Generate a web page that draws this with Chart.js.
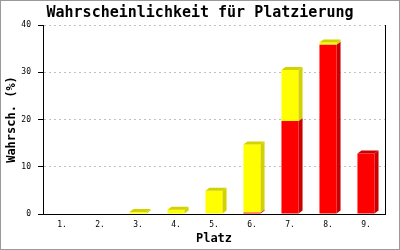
<!DOCTYPE html>
<html><head><meta charset="utf-8">
<script src="https://cdn.jsdelivr.net/npm/chart.js@4"></script>
<style>html,body{margin:0;padding:0;background:#fff}#wrap{width:400px;height:250px}</style>
</head><body><div id="wrap"><canvas id="c" width="400" height="250"></canvas></div>
<script>
const categories = ['1.','2.','3.','4.','5.','6.','7.','8.','9.'];
const redValues = [0,0,0,0,0,0.3,19.7,35.8,12.8];
const yellowValues = [0,0,0.4,0.9,4.9,14.4,10.8,0.5,0];
const yTicks = [0,10,20,30,40];

const DX = 4, DY = 3;
const bar3d = {
  id: 'bar3d',
  afterDatasetsDraw(chart) {
    const ctx = chart.ctx;
    const sets = chart.data.datasets;
    for (let i = 0; i < categories.length; i++) {
      let topDs = -1;
      sets.forEach((ds, d) => { if (ds.data[i] > 0) topDs = d; });
      sets.forEach((ds, d) => {
        if (!(ds.data[i] > 0)) return;
        const el = chart.getDatasetMeta(d).data[i];
        const {x, y, base, width} = el.getProps(['x', 'y', 'base', 'width'], true);
        const l = x - width / 2, r = x + width / 2;
        ctx.save();
        ctx.fillStyle = ds.sideColor;
        ctx.beginPath();
        ctx.moveTo(r, y); ctx.lineTo(r + DX, y - DY); ctx.lineTo(r + DX, base - DY); ctx.lineTo(r, base);
        ctx.closePath(); ctx.fill();
        if (d === topDs) {
          ctx.beginPath();
          ctx.moveTo(l, y); ctx.lineTo(l + DX, y - DY); ctx.lineTo(r + DX, y - DY); ctx.lineTo(r, y);
          ctx.closePath(); ctx.fill();
        }
        ctx.restore();
      });
    }
  }
};
const frame = {
  id: 'frame',
  beforeDraw(chart) {
    const ctx = chart.ctx;
    ctx.save();
    ctx.fillStyle = '#fff';
    ctx.fillRect(0, 0, chart.width, chart.height);
    ctx.restore();
  },
  afterDraw(chart) {
    const ctx = chart.ctx, a = chart.chartArea;
    ctx.save();
    ctx.strokeStyle = '#000'; ctx.lineWidth = 1;
    ctx.beginPath();
    ctx.moveTo(Math.round(a.right) + 0.5, a.top); ctx.lineTo(Math.round(a.right) + 0.5, a.bottom);
    ctx.stroke();
    ctx.strokeStyle = '#9a9a9a';
    ctx.strokeRect(0.5, 0.5, chart.width - 1, chart.height - 1);
    ctx.restore();
  }
};

new Chart(document.getElementById('c'), {
  type: 'bar',
  data: {
    labels: categories,
    datasets: [
      {label: 'rot', data: redValues, backgroundColor: '#ff0000', sideColor: '#cc0000', borderWidth: 0,
       barPercentage: 0.45, categoryPercentage: 1.0},
      {label: 'gelb', data: yellowValues, backgroundColor: '#ffff00', sideColor: '#d2d200', borderWidth: 0,
       barPercentage: 0.45, categoryPercentage: 1.0}
    ]
  },
  options: {
    responsive: false,
    animation: false,
    layout: {padding: {left: 0, right: 0, top: 0, bottom: 0}},
    plugins: {
      legend: {display: false},
      tooltip: {enabled: false},
      title: {
        display: true,
        text: 'Wahrscheinlichkeit für Platzierung',
        color: '#000',
        font: {family: 'DejaVu Sans Mono', size: 15, weight: 'bold'},
        padding: {top: 4, bottom: 3}
      }
    },
    scales: {
      x: {
        stacked: true,
        grid: {display: false, drawTicks: false},
        border: {display: true, color: '#000', width: 1},
        ticks: {color: '#000', font: {family: 'DejaVu Sans Mono', size: 8}, padding: 6, maxRotation: 0},
        title: {display: true, text: 'Platz', color: '#000',
                font: {family: 'DejaVu Sans Mono', size: 12, weight: 'bold'}, padding: {top: 0, bottom: 4}},
        afterFit(s) { s.height = 36; }
      },
      y: {
        stacked: true,
        min: 0, max: 40,
        afterBuildTicks(s) { s.ticks = yTicks.map(v => ({value: v})); },
        grid: {color: '#c0c0c0', tickColor: '#000', tickLength: 5, lineWidth: 1},
        border: {display: true, color: '#000', width: 1, dash: [2, 3]},
        ticks: {color: '#000', font: {family: 'DejaVu Sans Mono', size: 8}, padding: 7},
        title: {display: true, text: 'Wahrsch. (%)', color: '#000',
                font: {family: 'DejaVu Sans Mono', size: 12, weight: 'bold'}, padding: {top: 5, bottom: 0}},
        afterFit(s) { s.width = 43; }
      },
      yRight: {
        type: 'linear',
        position: 'right',
        display: true,
        min: 0, max: 40,
        grid: {display: false, drawTicks: false},
        border: {display: false},
        ticks: {display: false},
        afterFit(s) { s.width = 15; }
      }
    }
  },
  plugins: [bar3d, frame]
});
</script></body></html>
